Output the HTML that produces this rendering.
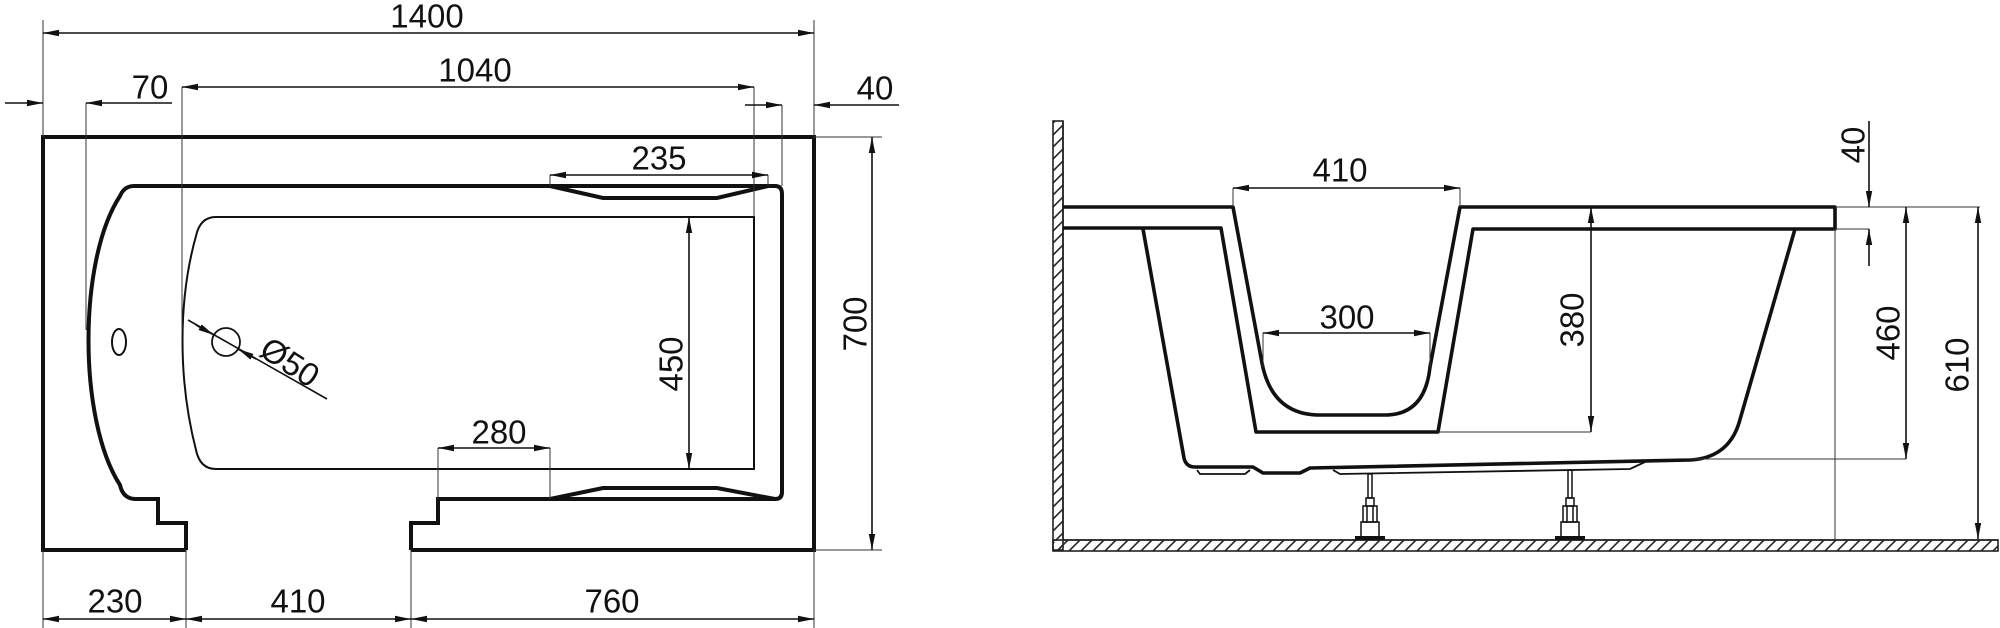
<!DOCTYPE html>
<html><head><meta charset="utf-8"><style>
html,body{margin:0;padding:0;background:#fff;}
svg{display:block;}
text{font-family:"Liberation Sans",sans-serif;font-size:33px;fill:#111;text-anchor:middle;dominant-baseline:central;}
</style></head><body>
<svg width="2000" height="628" viewBox="0 0 2000 628" xmlns="http://www.w3.org/2000/svg">
<defs>
<marker id="a" viewBox="0 0 16 8" refX="16" refY="4" markerWidth="16" markerHeight="8" markerUnits="userSpaceOnUse" orient="auto-start-reverse"><path d="M0,0.8 L16,4 L0,7.2 Z" fill="#111"/></marker>
<pattern id="h" width="12" height="12" patternUnits="userSpaceOnUse"><path d="M-3,15 L15,-3" stroke="#222" stroke-width="1.6"/><path d="M-3,3 L3,-3 M9,15 L15,9" stroke="#222" stroke-width="1.6"/></pattern>
</defs>

<g fill="none" stroke="#111" stroke-width="4" stroke-linejoin="miter">
<path d="M186,550 L43,550 L43,137 L814,137 L814,550 L411,550"/>
<path d="M186,550 L186,523 L158,523 L158,499 L136,499 Q123,499 120,485 C78,420 78,260 120,196 Q124,186 134,186 L775,186 Q782,186 782,194 L782,492 Q782,499 775,499 L438,499 L438,523 L411,523 L411,550"/>
<path d="M550,186 L603,198 L717,198 L768,186"/>
<path d="M550,499 L603,488 L717,488 L775,499"/>
</g>
<path d="M216,217 L754,217 L754,469 L216,469 Q200,469 196,450 C178,380 178,300 196,236 Q200,217 216,217 Z" fill="none" stroke="#111" stroke-width="2"/>
<ellipse cx="119" cy="342" rx="7" ry="13" fill="none" stroke="#111" stroke-width="2"/>
<circle cx="226" cy="342" r="14" fill="none" stroke="#111" stroke-width="1.8"/>

<g stroke="#333" stroke-width="1" fill="none">
<path d="M43,20 V137 M814,20 V137 M86,103 V330 M182,87 V330 M754,87 V217 M782,105 V186 M550,175 V186 M768,175 V186 M438,448 V499 M550,448 V499 M43,550 V628 M186,550 V628 M411,550 V628 M814,550 V628 M814,137 H882 M814,550 H882"/>
</g>
<g stroke="#111" stroke-width="1.6" fill="none">
<path d="M43,33 H814" marker-start="url(#a)" marker-end="url(#a)"/>
<path d="M182,87 H754" marker-start="url(#a)" marker-end="url(#a)"/>
<path d="M5,103 H43" marker-end="url(#a)"/>
<path d="M172,103 H86" marker-end="url(#a)"/>
<path d="M745,105 H782" marker-end="url(#a)"/>
<path d="M899,105 H814" marker-end="url(#a)"/>
<path d="M550,175 H768" marker-start="url(#a)" marker-end="url(#a)"/>
<path d="M438,448 H550" marker-start="url(#a)" marker-end="url(#a)"/>
<path d="M689,217 V469" marker-start="url(#a)" marker-end="url(#a)"/>
<path d="M872,137 V550" marker-start="url(#a)" marker-end="url(#a)"/>
<path d="M43,619 H186" marker-start="url(#a)" marker-end="url(#a)"/>
<path d="M186,619 H411" marker-start="url(#a)" marker-end="url(#a)"/>
<path d="M411,619 H814" marker-start="url(#a)" marker-end="url(#a)"/>
<path d="M188,320 L327,399"/>
<path d="M196,325 L214,335" marker-end="url(#a)"/>
<path d="M256,359 L238,349" marker-end="url(#a)"/>
</g>
<text x="427" y="16">1400</text>
<text x="475" y="70">1040</text>
<text x="150" y="87">70</text>
<text x="875" y="88">40</text>
<text x="659" y="158">235</text>
<text x="499" y="432">280</text>
<text x="115" y="601">230</text>
<text x="298" y="601">410</text>
<text x="612" y="601">760</text>
<text transform="translate(671,364) rotate(-90)">450</text>
<text transform="translate(855,324) rotate(-90)">700</text>
<text transform="translate(290,362) rotate(33)">Ø50</text>

<rect x="1053" y="121" width="10" height="429" fill="url(#h)" stroke="#222" stroke-width="1.6"/>
<rect x="1053" y="540" width="945" height="11" fill="url(#h)" stroke="#222" stroke-width="1.6"/>
<rect x="1054" y="541" width="8" height="1" fill="#fff"/>
<path d="M1063,121 V540 H1998" fill="none" stroke="#222" stroke-width="1.6"/>

<g fill="none" stroke="#111" stroke-width="3.6" stroke-linejoin="round">
<path d="M1063,207 L1233,207 L1262,363 Q1272,415 1320,415 L1385,415 Q1425,415 1430,367 L1460,207 L1835,207 L1835,229 L1473,229 L1438,432 L1256,432 L1221,228 L1063,228"/>
<path d="M1143,229 L1184,458 Q1186,467 1195,467 L1253,467 L1263,473 L1300,473 L1310,468 L1690,460 Q1728,458 1739,423 L1795,229"/>
</g>
<g fill="none" stroke="#111" stroke-width="1.8">
<path d="M1197,470 L1200,474 L1245,474 L1250,470"/>
<path d="M1333,470 L1340,474 L1630,469 L1645,462"/>
</g>
<g fill="none" stroke="#111" stroke-width="1.5">
<rect x="1368" y="474" width="4" height="24"/>
<rect x="1366" y="498" width="8" height="8"/>
<rect x="1363" y="506" width="14" height="16"/>
<path d="M1367,506 V522 M1373,506 V522"/>
<rect x="1361" y="522" width="18" height="15"/>
<rect x="1568" y="470" width="4" height="28"/>
<rect x="1566" y="498" width="8" height="8"/>
<rect x="1563" y="506" width="14" height="16"/>
<path d="M1567,506 V522 M1573,506 V522"/>
<rect x="1561" y="522" width="18" height="15"/>
</g>
<rect x="1355" y="536" width="30" height="4" fill="#111"/>
<rect x="1555" y="536" width="30" height="4" fill="#111"/>

<g stroke="#333" stroke-width="1" fill="none">
<path d="M1835,229 V540 M1233,188 V207 M1460,188 V207 M1263,333 V367 M1430,333 V367 M1438,432 H1591 M1835,207 H1980 M1835,229 H1869 M1690,459 H1906"/>
</g>
<g stroke="#111" stroke-width="1.6" fill="none">
<path d="M1233,188 H1460" marker-start="url(#a)" marker-end="url(#a)"/>
<path d="M1263,333 H1430" marker-start="url(#a)" marker-end="url(#a)"/>
<path d="M1591,207 V432" marker-start="url(#a)" marker-end="url(#a)"/>
<path d="M1869,121 V207" marker-end="url(#a)"/>
<path d="M1869,266 V229" marker-end="url(#a)"/>
<path d="M1906,207 V459" marker-start="url(#a)" marker-end="url(#a)"/>
<path d="M1978,207 V539" marker-start="url(#a)" marker-end="url(#a)"/>
</g>
<text x="1340" y="170">410</text>
<text x="1347" y="317">300</text>
<text transform="translate(1572,320) rotate(-90)">380</text>
<text transform="translate(1853,145) rotate(-90)">40</text>
<text transform="translate(1888,333) rotate(-90)">460</text>
<text transform="translate(1957,365) rotate(-90)">610</text>
</svg>
</body></html>
